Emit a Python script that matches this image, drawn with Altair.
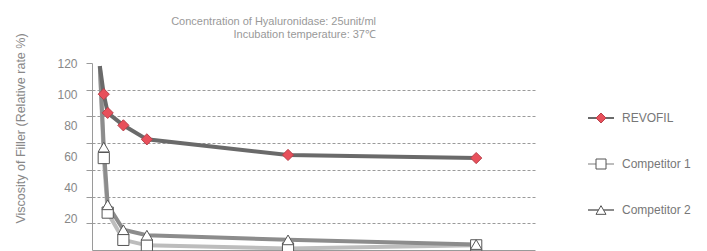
import altair as alt
import pandas as pd

# ---- data ----
series_names = ["REVOFIL", "Competitor 1", "Competitor 2"]
hours = [0, 1, 2, 6, 12, 48, 96]
revofil = [118, 100, 88, 80, 71, 61, 59]
competitor1 = [118, 59, 24, 6.5, 3, 1, 3]
competitor2 = [118, 66, 29, 13, 9.5, 6.5, 3.5]

y_label_values = [20, 40, 60, 80, 100, 120]
y_grid_values = [17.14, 34.29, 51.43, 68.57, 85.71, 102.86, 120]

title_lines = ["Concentration of Hyaluronidase: 25unit/ml", "Incubation temperature: 37\u2103"]
y_title = "Viscosity of Filler (Relative rate %)"

line_colors = ["#6a6a6a", "#bdbdbd", "#8c8c8c"]
marker_fills = ["#e8505b", "#ffffff", "#ffffff"]
marker_strokes = ["#b8424c", "#555555", "#555555"]
marker_shapes = ["diamond", "square", "triangle-up"]

FONT = "Liberation Sans"

# marker keys are distinct strings so that the marker legend stays separate from the line legend
marker_names = [n + " " for n in series_names]

rows = []
for name, vals in [("Competitor 1", competitor1), ("Competitor 2", competitor2), ("REVOFIL", revofil)]:
    for t, v in zip(hours, vals):
        rows.append({"series": name, "marker": name + " ", "hour": t, "value": v})
df = pd.DataFrame(rows)

base = alt.Chart(df)

x_enc = alt.X(
    "hour:Q",
    scale=alt.Scale(domain=[-2, 111], nice=False, zero=False),
    axis=alt.Axis(title=None, labels=False, ticks=False, grid=False,
                  domainColor="#9a9a9a", domainWidth=1),
)

tick_axis = alt.Axis(
    orient="left", values=y_grid_values, title=None, labels=False,
    ticks=True, tickSize=6, tickColor="#9a9a9a", tickWidth=1,
    domain=True, domainColor="#9a9a9a", domainWidth=1,
    grid=True, gridColor="#9a9a9a", gridDash=[3, 2], gridWidth=1,
    gridOpacity={"condition": {"test": "datum.value >= 119", "value": 0}, "value": 1},
)

label_axis = alt.Axis(
    orient="left", values=y_label_values, ticks=False, tickSize=0, domain=False, grid=False,
    labelPadding=15, labelFontSize=12, labelColor="#888888", labelFont=FONT,
    title=y_title, titleFont=FONT, titleFontSize=12.5, titleFontWeight="normal",
    titleColor="#888888", titleAngle=-90, titleX=-72, titleY=65,
    titleAlign="center", titleBaseline="middle",
)

y_scale = alt.Scale(domain=[0, 120], nice=False, zero=True)

lines = base.mark_line(strokeWidth=4, clip=True).encode(
    x=x_enc,
    y=alt.Y("value:Q", scale=y_scale, axis=tick_axis),
    color=alt.Color(
        "series:N",
        scale=alt.Scale(domain=series_names, range=line_colors),
        legend=alt.Legend(
            orient="none", legendX=495, legendY=47, title=None, padding=0,
            symbolType="stroke", symbolSize=676, symbolStrokeWidth=2,
            clipHeight=16, rowPadding=30, labelOffset=7,
            labelFont=FONT, labelFontSize=12, labelColor="#777777",
        ),
    ),
)

point_legend = alt.Legend(
    orient="none", legendX=503, legendY=47, title=None, padding=0,
    symbolSize=100, symbolStrokeWidth=1, symbolOpacity=1,
    clipHeight=16, rowPadding=30, labelOpacity=0,
    labelFont=FONT, labelFontSize=12,
)

points = base.transform_filter("datum.hour > 0").mark_point(
    filled=True, opacity=1, strokeWidth=1, size=125
).encode(
    x=x_enc,
    y=alt.Y("value:Q", scale=y_scale, axis=label_axis),
    fill=alt.Fill("marker:N", scale=alt.Scale(domain=marker_names, range=marker_fills), legend=point_legend),
    stroke=alt.Stroke("marker:N", scale=alt.Scale(domain=marker_names, range=marker_strokes), legend=point_legend),
    shape=alt.Shape("marker:N", scale=alt.Scale(domain=marker_names, range=marker_shapes), legend=point_legend),
)

chart = alt.layer(lines, points).resolve_axis(y="independent").properties(
    width=443,
    height=187,
    autosize=alt.AutoSizeParams(type="none"),
    padding={"left": 84, "top": 55, "right": 164, "bottom": 2},
    title=alt.TitleParams(
        text=title_lines, anchor="end", align="right", dx=-159, dy=13, offset=6,
        fontSize=11, font=FONT, fontWeight="normal", color="#999999", lineHeight=13,
        frame="group",
    ),
).configure_view(strokeWidth=0)

chart.save("out.html", embed_options={"renderer": "svg", "actions": False})
